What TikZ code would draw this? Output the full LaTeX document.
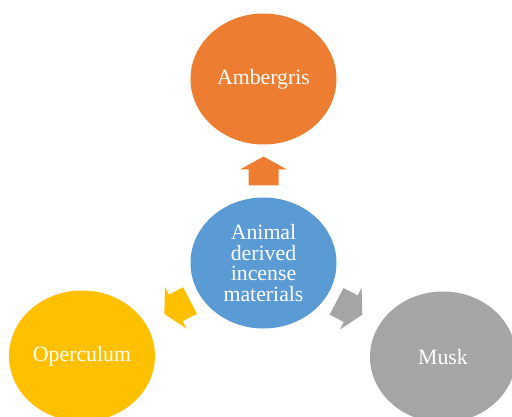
\documentclass[tikz,border=0pt]{standalone}
\usepackage{fontspec}
\setmainfont{Liberation Serif}
\usetikzlibrary{shapes.geometric,calc}
\definecolor{cOrange}{HTML}{ED7D31}
\definecolor{cBlue}{HTML}{5B9BD5}
\definecolor{cYellow}{HTML}{FFC000}
\definecolor{cGray}{HTML}{A5A5A5}
\tikzset{
  blob/.style={ellipse, inner sep=0pt, minimum width=146pt, minimum height=131pt,
    text=white, font=\fontsize{21.8}{20.6}\selectfont, align=center}
}
\newcommand\arrowshape{(-14.5,15) -- (1.5,15) -- (1.5,23.5) -- (14.5,0) -- (1.5,-23.5) -- (1.5,-15) -- (-14.5,-15) -- cycle}
\begin{document}
\begin{tikzpicture}[x=1pt,y=-1pt]
\useasboundingbox (0,0) rectangle (512,417);
\fill[white] (0,0) rectangle (512,417);
\begin{scope}
\clip (0,0) rectangle (512,417);
\node[blob, fill=cOrange] (amb) at (263.5,79) {Ambergris};
\node[blob, fill=cBlue] (c) at (263.5,263) {Animal\\derived\\incense\\materials};
\node[blob, fill=cYellow] (op) at (82,356) {Operculum};
\node[blob, fill=cGray] (mu) at (443,357) {Musk};
\end{scope}
\begin{scope}[shift={($(c)!92pt!(amb)$)}, rotate=90]
\fill[cOrange] \arrowshape;
\end{scope}
\begin{scope}[shift={($(c)!97pt!(op)$)}, rotate=207.5]
\fill[cYellow] \arrowshape;
\end{scope}
\begin{scope}[shift={($(c)!97pt!(mu)$)}, rotate=332.5]
\fill[cGray] \arrowshape;
\end{scope}
\end{tikzpicture}
\end{document}
